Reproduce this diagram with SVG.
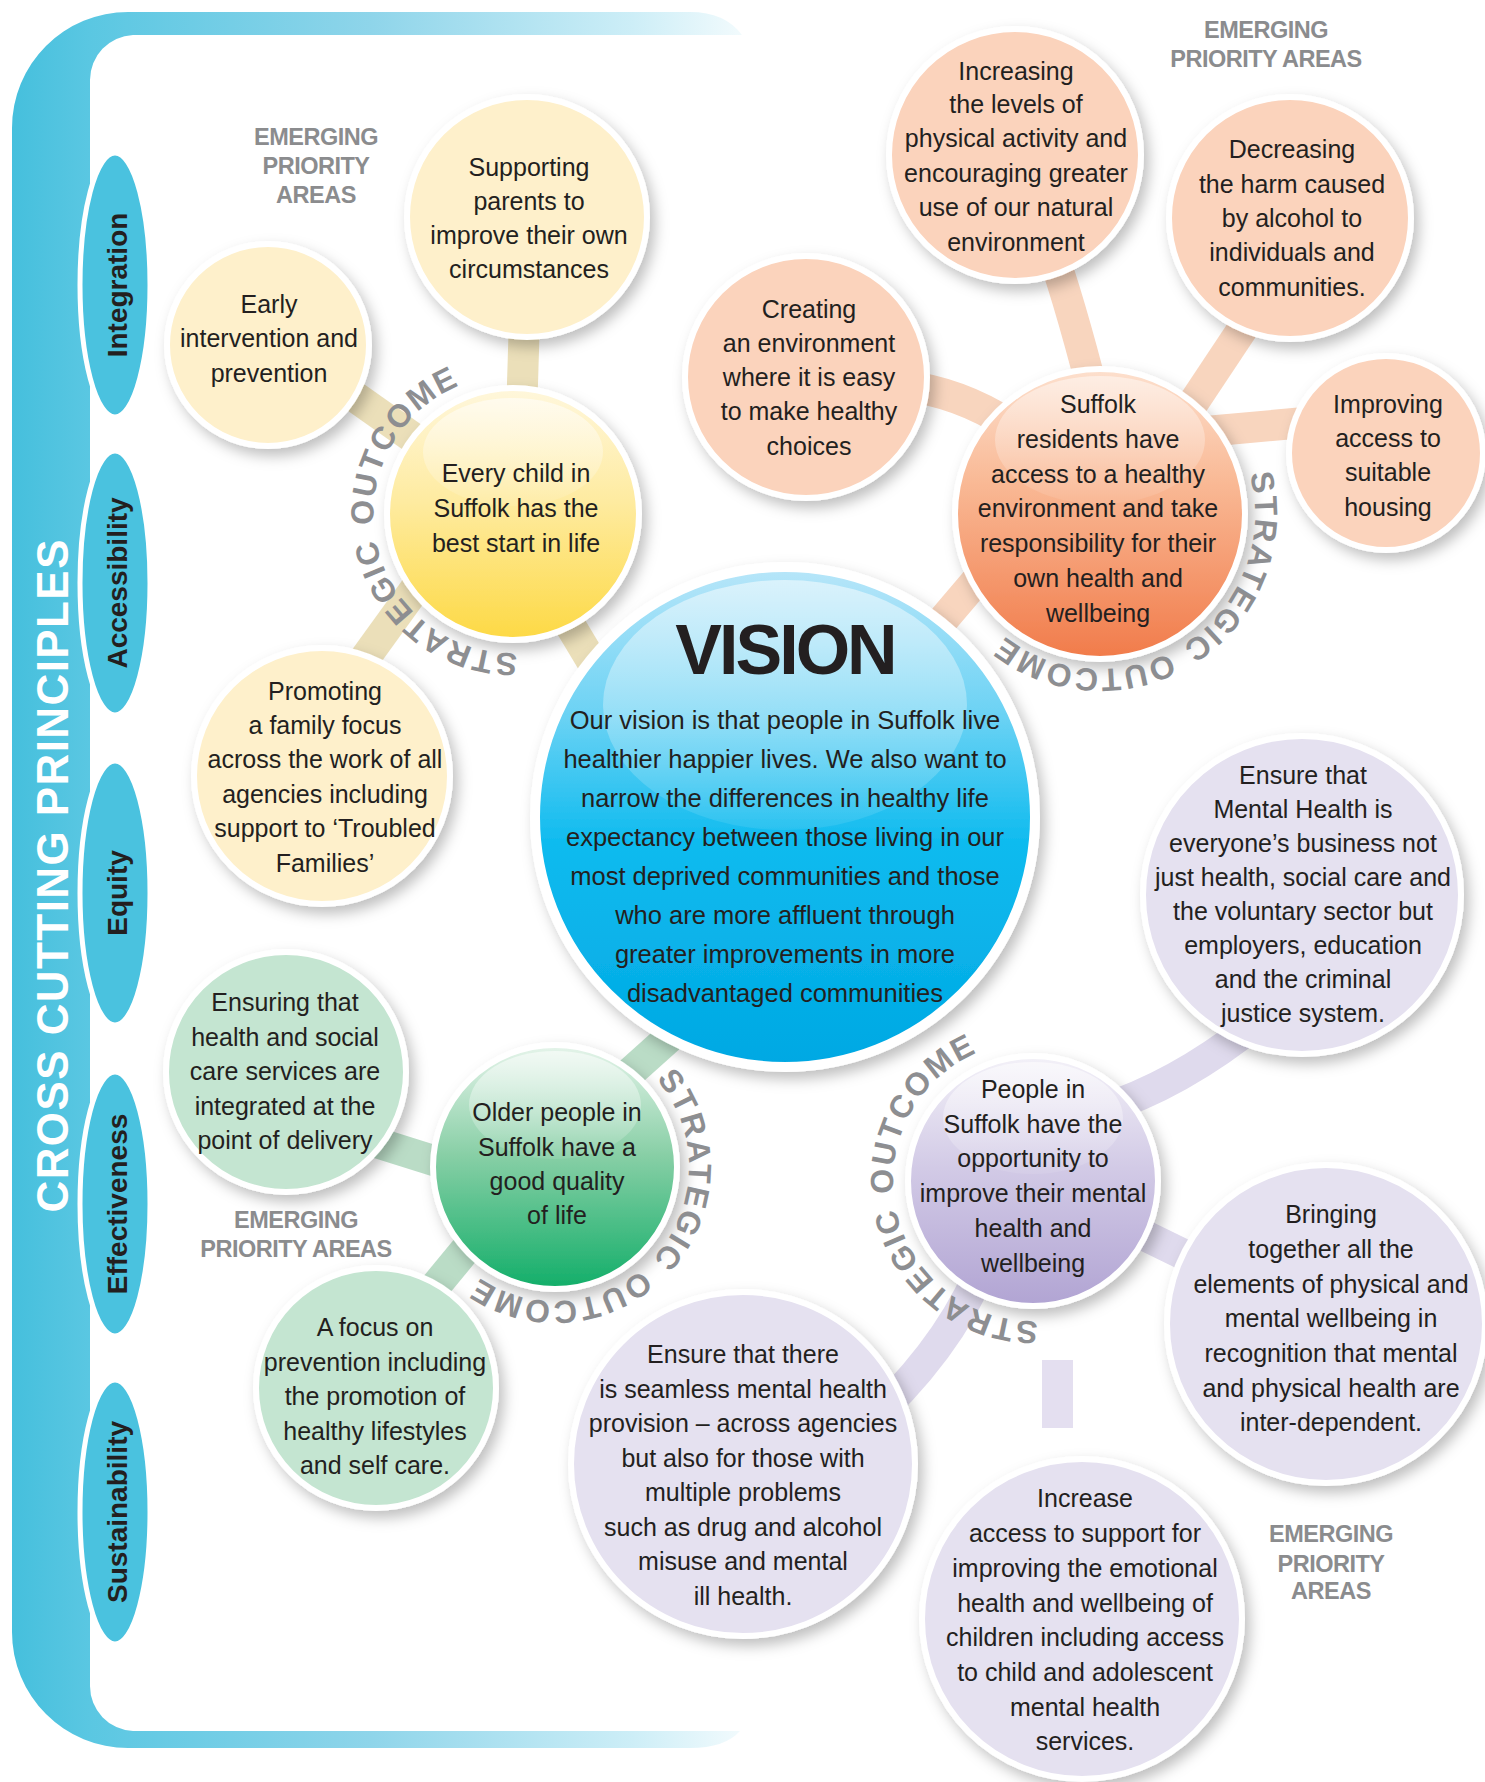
<svg xmlns="http://www.w3.org/2000/svg" width="1485" height="1782" viewBox="0 0 1485 1782">
<defs>
<style>
.t{font-family:"Liberation Sans",Arial,sans-serif;font-size:25px;fill:#231f20;text-anchor:middle}
.v{font-family:"Liberation Sans",Arial,sans-serif;font-size:25.5px;fill:#231f20;text-anchor:middle}
.em{font-family:"Liberation Sans",Arial,sans-serif;font-size:23.5px;font-weight:bold;fill:#8b8c8e;text-anchor:middle;letter-spacing:-0.5px}
.so{font-family:"Liberation Sans",Arial,sans-serif;font-size:32px;font-weight:bold;fill:#8d8e91;letter-spacing:1.8px}
.pr{font-family:"Liberation Sans",Arial,sans-serif;font-size:28px;font-weight:bold;fill:#231f20;text-anchor:middle}
.ell{fill:#4ac2df;stroke:#fff;stroke-width:5}
.leaf{stroke:#fff;stroke-width:6;filter:url(#sh)}
.cy{fill:none;stroke:#ebdfb9;stroke-width:31}
.co{fill:none;stroke:#f8d5be;stroke-width:31}
.cg{fill:none;stroke:#badcc6;stroke-width:31}
.cp{fill:none;stroke:#dfdaed;stroke-width:31}
</style>
<filter id="sh" x="-25%" y="-25%" width="160%" height="160%"><feDropShadow dx="5" dy="7" stdDeviation="7" flood-color="#000" flood-opacity="0.25"/></filter>
<linearGradient id="fr" gradientUnits="userSpaceOnUse" x1="0" y1="0" x2="745" y2="0">
<stop offset="0" stop-color="#42bedc"/><stop offset="0.12" stop-color="#5ac7e2"/><stop offset="0.5" stop-color="#8fd5ea"/><stop offset="0.85" stop-color="#cdeef7"/><stop offset="1" stop-color="#f3fbfd"/>
</linearGradient>
<linearGradient id="gY" x1="0" y1="0" x2="0" y2="1"><stop offset="0" stop-color="#fff7dc"/><stop offset="0.45" stop-color="#feeba0"/><stop offset="1" stop-color="#fdd944"/></linearGradient>
<linearGradient id="gO" x1="0" y1="0" x2="0" y2="1"><stop offset="0" stop-color="#fde0ce"/><stop offset="0.4" stop-color="#f9b894"/><stop offset="1" stop-color="#f17b4a"/></linearGradient>
<linearGradient id="gG" x1="0" y1="0" x2="0" y2="1"><stop offset="0" stop-color="#e5f4ea"/><stop offset="0.45" stop-color="#88cfa6"/><stop offset="1" stop-color="#12ae69"/></linearGradient>
<linearGradient id="gP" x1="0" y1="0" x2="0" y2="1"><stop offset="0" stop-color="#f3f1f8"/><stop offset="0.45" stop-color="#d2cae6"/><stop offset="1" stop-color="#b1a4d3"/></linearGradient>
<linearGradient id="gV" x1="0" y1="0" x2="0" y2="1"><stop offset="0" stop-color="#b8e6f9"/><stop offset="0.3" stop-color="#6ad2f4"/><stop offset="0.55" stop-color="#0fbbef"/><stop offset="1" stop-color="#00a8e3"/></linearGradient>
<linearGradient id="gH" x1="0" y1="0" x2="0" y2="1"><stop offset="0" stop-color="#fff" stop-opacity="0.8"/><stop offset="1" stop-color="#fff" stop-opacity="0.12"/></linearGradient>
<path id="r1" d="M 517.4 652.9 A 139 139 0 1 1 635.2 579.3"/>
<path id="r2" d="M 1249.7 473.9 A 155 155 0 1 1 1140.1 364.3"/>
<path id="r3" d="M 656.1 1079.1 A 134 134 0 1 1 529.4 1035.5"/>
<path id="r4" d="M 1037.9 1320.9 A 140 140 0 1 1 1156.6 1246.7"/>
</defs>

<rect width="1485" height="1782" fill="#fff"/>

<g id="frame">
<path d="M 690 12 L 128 12 A 116 116 0 0 0 12 128 L 12 1632 A 116 116 0 0 0 128 1748 L 690 1748 Q 725 1748 740 1731 L 133 1731 A 45 45 0 0 1 90 1686 L 90 80 A 45 45 0 0 1 133 35 L 742 35 Q 725 12 690 12 Z" fill="url(#fr)"/>
<text transform="translate(68 876) rotate(-90)" font-family="Liberation Sans, Arial, sans-serif" font-size="44" font-weight="bold" fill="#fff" text-anchor="middle" textLength="673" lengthAdjust="spacing">CROSS CUTTING PRINCIPLES</text>
</g>

<g id="principle-integration"><ellipse class="ell" cx="115" cy="285" rx="35" ry="132"/><text class="pr" transform="translate(127 285) rotate(-90)">Integration</text></g>
<g id="principle-accessibility"><ellipse class="ell" cx="115" cy="583" rx="35" ry="132"/><text class="pr" transform="translate(127 583) rotate(-90)">Accessibility</text></g>
<g id="principle-equity"><ellipse class="ell" cx="115" cy="893" rx="35" ry="132"/><text class="pr" transform="translate(127 893) rotate(-90)">Equity</text></g>
<g id="principle-effectiveness"><ellipse class="ell" cx="115" cy="1204" rx="35" ry="132"/><text class="pr" transform="translate(127 1204) rotate(-90)">Effectiveness</text></g>
<g id="principle-sustainability"><ellipse class="ell" cx="115" cy="1512" rx="35" ry="132"/><text class="pr" transform="translate(127 1512) rotate(-90)">Sustainability</text></g>

<g id="connectors">
<path class="cy" d="M 522 400 L 525 300"/>
<path class="cy" d="M 300 358 L 470 478"/>
<path class="cy" d="M 342 690 L 436 560"/>
<path class="cy" d="M 555 600 L 645 750"/>
<path class="co" d="M 1040 220 Q 1065 280 1100 420"/>
<path class="co" d="M 1160 453 L 1275 280"/>
<path class="co" d="M 900 385 Q 960 392 1010 425"/>
<path class="co" d="M 1200 432 L 1310 422"/>
<path class="co" d="M 1040 506 L 880 694"/>
<path class="cg" d="M 555 1140 L 700 1010"/>
<path class="cg" d="M 330 1128 L 470 1172"/>
<path class="cg" d="M 420 1305 L 490 1220"/>
<path class="cp" d="M 1100 1110 Q 1180 1085 1260 1020"/>
<path class="cp" d="M 1033 1181 L 1326 1324"/>
<path class="cp" d="M 985 1260 Q 950 1350 860 1430"/>
<rect x="1042" y="1360" width="31" height="68" fill="#e4dff0"/>
</g>

<g id="node-supporting-parents"><circle class="leaf" cx="527" cy="217" r="120" fill="#fef0cb"/>
<text class="t"><tspan x="529" y="176">Supporting</tspan><tspan x="529" y="210">parents to</tspan><tspan x="529" y="244">improve their own</tspan><tspan x="529" y="278">circumstances</tspan></text></g>

<g id="node-early-intervention"><circle class="leaf" cx="268" cy="345" r="101" fill="#fef0cb"/>
<text class="t"><tspan x="269" y="313">Early</tspan><tspan x="269" y="347">intervention and</tspan><tspan x="269" y="382">prevention</tspan></text></g>

<g id="node-promoting-family"><circle class="leaf" cx="322" cy="776" r="128" fill="#fef0cb"/>
<text class="t"><tspan x="325" y="700">Promoting</tspan><tspan x="325" y="734">a family focus</tspan><tspan x="325" y="768">across the work of all</tspan><tspan x="325" y="803">agencies including</tspan><tspan x="325" y="837">support to ‘Troubled</tspan><tspan x="325" y="872">Families’</tspan></text></g>

<g id="outcome-every-child"><circle class="leaf" cx="513" cy="514" r="126" fill="url(#gY)"/>
<ellipse cx="513" cy="452" rx="90" ry="54" fill="url(#gH)" opacity="0.7"/>
<text class="t"><tspan x="516" y="482">Every child in</tspan><tspan x="516" y="517">Suffolk has the</tspan><tspan x="516" y="552">best start in life</tspan></text>
<text class="so"><textPath href="#r1">STRATEGIC</textPath></text>
<text class="so"><textPath href="#r1" startOffset="212">OUTCOME</textPath></text></g>

<g id="node-increasing-activity"><circle class="leaf" cx="1015" cy="155" r="126" fill="#fbd3bc"/>
<text class="t"><tspan x="1016" y="80">Increasing</tspan><tspan x="1016" y="113">the levels of</tspan><tspan x="1016" y="147">physical activity and</tspan><tspan x="1016" y="182">encouraging greater</tspan><tspan x="1016" y="216">use of our natural</tspan><tspan x="1016" y="251">environment</tspan></text></g>

<g id="node-decreasing-alcohol"><circle class="leaf" cx="1290" cy="218" r="121" fill="#fbd3bc"/>
<text class="t"><tspan x="1292" y="158">Decreasing</tspan><tspan x="1292" y="193">the harm caused</tspan><tspan x="1292" y="227">by alcohol to</tspan><tspan x="1292" y="261">individuals and</tspan><tspan x="1292" y="296">communities.</tspan></text></g>

<g id="node-creating-environment"><circle class="leaf" cx="806" cy="377" r="121" fill="#fbd3bc"/>
<text class="t"><tspan x="809" y="318">Creating</tspan><tspan x="809" y="352">an environment</tspan><tspan x="809" y="386">where it is easy</tspan><tspan x="809" y="420">to make healthy</tspan><tspan x="809" y="455">choices</tspan></text></g>

<g id="node-improving-housing"><circle class="leaf" cx="1386" cy="453" r="97" fill="#fbd3bc"/>
<text class="t"><tspan x="1388" y="413">Improving</tspan><tspan x="1388" y="447">access to</tspan><tspan x="1388" y="481">suitable</tspan><tspan x="1388" y="516">housing</tspan></text></g>

<g id="outcome-healthy-environment"><circle class="leaf" cx="1100" cy="514" r="145" fill="url(#gO)"/>
<ellipse cx="1100" cy="440" rx="105" ry="64" fill="url(#gH)" opacity="0.6"/>
<text class="t"><tspan x="1098" y="413">Suffolk</tspan><tspan x="1098" y="448">residents have</tspan><tspan x="1098" y="483">access to a healthy</tspan><tspan x="1098" y="517">environment and take</tspan><tspan x="1098" y="552">responsibility for their</tspan><tspan x="1098" y="587">own health and</tspan><tspan x="1098" y="622">wellbeing</tspan></text>
<text class="so"><textPath href="#r2">STRATEGIC</textPath></text>
<text class="so"><textPath href="#r2" startOffset="212">OUTCOME</textPath></text></g>

<g id="vision"><circle cx="785" cy="817" r="250" fill="url(#gV)" stroke="#fff" stroke-width="10" filter="url(#sh)"/>
<ellipse cx="785" cy="705" rx="182" ry="125" fill="url(#gH)" opacity="0.65"/>
<text x="785" y="674" font-family="Liberation Sans, Arial, sans-serif" font-size="70" font-weight="bold" fill="#231f20" text-anchor="middle" letter-spacing="-3">VISION</text>
<text class="v"><tspan x="785" y="729">Our vision is that people in Suffolk live</tspan><tspan x="785" y="768">healthier happier lives. We also want to</tspan><tspan x="785" y="807">narrow the differences in healthy life</tspan><tspan x="785" y="846">expectancy between those living in our</tspan><tspan x="785" y="885">most deprived communities and those</tspan><tspan x="785" y="924">who are more affluent through</tspan><tspan x="785" y="963">greater improvements in more</tspan><tspan x="785" y="1002">disadvantaged communities</tspan></text></g>

<g id="node-ensuring-integrated"><circle class="leaf" cx="286" cy="1072" r="120" fill="#c4e5d1"/>
<text class="t"><tspan x="285" y="1011">Ensuring that</tspan><tspan x="285" y="1046">health and social</tspan><tspan x="285" y="1080">care services are</tspan><tspan x="285" y="1115">integrated at the</tspan><tspan x="285" y="1149">point of delivery</tspan></text></g>

<g id="node-focus-prevention"><circle class="leaf" cx="376" cy="1388" r="120" fill="#c4e5d1"/>
<text class="t"><tspan x="375" y="1336">A focus on</tspan><tspan x="375" y="1371">prevention including</tspan><tspan x="375" y="1405">the promotion of</tspan><tspan x="375" y="1440">healthy lifestyles</tspan><tspan x="375" y="1474">and self care.</tspan></text></g>

<g id="outcome-older-people"><circle class="leaf" cx="555" cy="1167" r="122" fill="url(#gG)"/>
<ellipse cx="555" cy="1105" rx="86" ry="54" fill="url(#gH)" opacity="0.7"/>
<text class="t"><tspan x="557" y="1121">Older people in</tspan><tspan x="557" y="1156">Suffolk have a</tspan><tspan x="557" y="1190">good quality</tspan><tspan x="557" y="1224">of life</tspan></text>
<text class="so"><textPath href="#r3">STRATEGIC</textPath></text>
<text class="so"><textPath href="#r3" startOffset="212">OUTCOME</textPath></text></g>

<g id="node-mental-health-business"><circle class="leaf" cx="1302" cy="895" r="159" fill="#e5e1f0"/>
<text class="t"><tspan x="1303" y="784">Ensure that</tspan><tspan x="1303" y="818">Mental Health is</tspan><tspan x="1303" y="852">everyone’s business not</tspan><tspan x="1303" y="886">just health, social care and</tspan><tspan x="1303" y="920">the voluntary sector but</tspan><tspan x="1303" y="954">employers, education</tspan><tspan x="1303" y="988">and the criminal</tspan><tspan x="1303" y="1022">justice system.</tspan></text></g>

<g id="node-bringing-together"><circle class="leaf" cx="1326" cy="1324" r="159" fill="#e5e1f0"/>
<text class="t"><tspan x="1331" y="1223">Bringing</tspan><tspan x="1331" y="1258">together all the</tspan><tspan x="1331" y="1293">elements of physical and</tspan><tspan x="1331" y="1327">mental wellbeing in</tspan><tspan x="1331" y="1362">recognition that mental</tspan><tspan x="1331" y="1397">and physical health are</tspan><tspan x="1331" y="1431">inter-dependent.</tspan></text></g>

<g id="node-seamless-provision"><circle class="leaf" cx="743" cy="1464" r="172" fill="#e5e1f0"/>
<text class="t"><tspan x="743" y="1363">Ensure that there</tspan><tspan x="743" y="1398">is seamless mental health</tspan><tspan x="743" y="1432">provision – across agencies</tspan><tspan x="743" y="1467">but also for those with</tspan><tspan x="743" y="1501">multiple problems</tspan><tspan x="743" y="1536">such as drug and alcohol</tspan><tspan x="743" y="1570">misuse and mental</tspan><tspan x="743" y="1605">ill health.</tspan></text></g>

<g id="node-increase-access"><circle class="leaf" cx="1082" cy="1619" r="160" fill="#e5e1f0"/>
<text class="t"><tspan x="1085" y="1507">Increase</tspan><tspan x="1085" y="1542">access to support for</tspan><tspan x="1085" y="1577">improving the emotional</tspan><tspan x="1085" y="1612">health and wellbeing of</tspan><tspan x="1085" y="1646">children including access</tspan><tspan x="1085" y="1681">to child and adolescent</tspan><tspan x="1085" y="1716">mental health</tspan><tspan x="1085" y="1750">services.</tspan></text></g>

<g id="outcome-mental-health"><circle class="leaf" cx="1033" cy="1181" r="125" fill="url(#gP)"/>
<ellipse cx="1033" cy="1118" rx="90" ry="56" fill="url(#gH)" opacity="0.7"/>
<text class="t"><tspan x="1033" y="1098">People in</tspan><tspan x="1033" y="1133">Suffolk have the</tspan><tspan x="1033" y="1167">opportunity to</tspan><tspan x="1033" y="1202">improve their mental</tspan><tspan x="1033" y="1237">health and</tspan><tspan x="1033" y="1272">wellbeing</tspan></text>
<text class="so"><textPath href="#r4">STRATEGIC</textPath></text>
<text class="so"><textPath href="#r4" startOffset="212">OUTCOME</textPath></text></g>

<g id="labels">
<text class="em"><tspan x="316" y="145">EMERGING</tspan><tspan x="316" y="174">PRIORITY</tspan><tspan x="316" y="203">AREAS</tspan></text>
<text class="em"><tspan x="1266" y="38">EMERGING</tspan><tspan x="1266" y="67">PRIORITY AREAS</tspan></text>
<text class="em"><tspan x="296" y="1228">EMERGING</tspan><tspan x="296" y="1257">PRIORITY AREAS</tspan></text>
<text class="em"><tspan x="1331" y="1542">EMERGING</tspan><tspan x="1331" y="1572">PRIORITY</tspan><tspan x="1331" y="1599">AREAS</tspan></text>
</g>
</svg>
